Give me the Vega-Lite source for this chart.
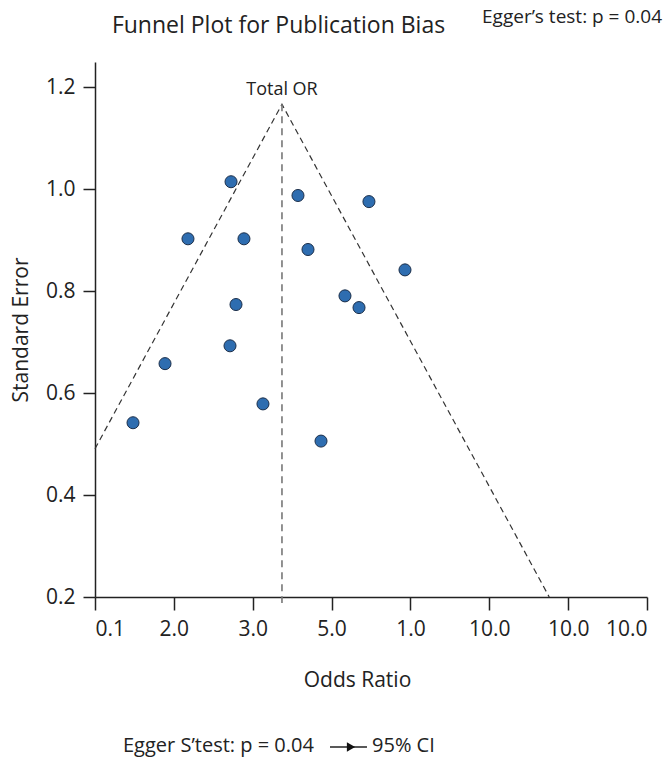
{
  "$schema": "https://vega.github.io/schema/vega-lite/v6.json",
  "width": 552,
  "height": 535,
  "autosize": "none",
  "padding": {"left": 95, "top": 62, "right": 18, "bottom": 163},
  "background": "white",
  "config": {
    "view": {"stroke": null},
    "font": "Open Sans",
    "axis": {"grid": false, "domainColor": "#222", "domainWidth": 1.5, "tickColor": "#222", "tickWidth": 1.5, "labelColor": "#222", "titleColor": "#222", "labelFont": "Open Sans", "titleFont": "Open Sans", "titleFontWeight": "normal"}
  },
  "datasets": {
    "studies": [
      {"or_pos": 1.725, "se": 1.015},
      {"or_pos": 1.179, "se": 0.903},
      {"or_pos": 1.889, "se": 0.903},
      {"or_pos": 2.574, "se": 0.988},
      {"or_pos": 3.474, "se": 0.976},
      {"or_pos": 2.701, "se": 0.882},
      {"or_pos": 3.931, "se": 0.842},
      {"or_pos": 3.170, "se": 0.791},
      {"or_pos": 3.348, "se": 0.768},
      {"or_pos": 1.788, "se": 0.774},
      {"or_pos": 1.712, "se": 0.693},
      {"or_pos": 0.888, "se": 0.658},
      {"or_pos": 2.130, "se": 0.579},
      {"or_pos": 0.482, "se": 0.542},
      {"or_pos": 2.866, "se": 0.506}
    ],
    "funnel": [
      {"or_pos": 0.0, "se": 0.491, "order": 1},
      {"or_pos": 2.371, "se": 1.167, "order": 2},
      {"or_pos": 5.76, "se": 0.2, "order": 3}
    ],
    "center": [
      {"or_pos": 2.371, "se": 1.167},
      {"or_pos": 2.371, "se": 0.188}
    ]
  },
  "layer": [
    {
      "data": {"name": "funnel"},
      "mark": {"type": "line", "color": "#333", "strokeWidth": 1.2, "strokeDash": [6, 4], "clip": false},
      "encoding": {
        "x": {"field": "or_pos", "type": "quantitative", "scale": {"domain": [0, 7], "nice": false, "zero": false},
          "axis": {"values": [0, 1, 2, 3, 4, 5, 6, 7], "labelExpr": "['0.1','2.0','3.0','5.0','1.0','10.0','10.0','10.0'][datum.value]", "labelFontSize": 21, "tickSize": 13, "labelPadding": 8, "title": "Odds Ratio", "titleFontSize": 21, "titlePadding": 30, "titleX": 262}},
        "y": {"field": "se", "type": "quantitative", "scale": {"domain": [0.2, 1.25], "nice": false, "zero": false},
          "axis": {"values": [0.2, 0.4, 0.6, 0.8, 1.0, 1.2], "format": ".1f", "labelFontSize": 21, "tickSize": 12, "labelPadding": 8, "title": "Standard Error", "titleFontSize": 21, "titlePadding": 14}},
        "order": {"field": "order"}
      }
    },
    {
      "data": {"name": "center"},
      "mark": {"type": "line", "color": "#777", "strokeWidth": 1.6, "strokeDash": [7, 5], "clip": false},
      "encoding": {
        "x": {"field": "or_pos", "type": "quantitative"},
        "y": {"field": "se", "type": "quantitative"}
      }
    },
    {
      "data": {"name": "studies"},
      "mark": {"type": "point", "shape": "circle", "filled": true, "size": 145, "fill": "#2e6db0", "stroke": "#1c2f4a", "strokeWidth": 1, "opacity": 1},
      "encoding": {
        "x": {"field": "or_pos", "type": "quantitative"},
        "y": {"field": "se", "type": "quantitative"}
      }
    },
    {
      "data": {"values": [{"label": "Total OR"}]},
      "mark": {"type": "text", "fontSize": 18, "color": "#222", "align": "center", "baseline": "alphabetic", "clip": false},
      "encoding": {"x": {"datum": 2.371}, "y": {"datum": 1.185}, "text": {"field": "label"}}
    },
    {
      "data": {"values": [{"label": "Funnel Plot for Publication Bias"}]},
      "mark": {"type": "text", "fontSize": 23, "color": "#222", "align": "center", "baseline": "alphabetic", "clip": false},
      "encoding": {"x": {"datum": 2.327}, "y": {"datum": 1.307}, "text": {"field": "label"}}
    },
    {
      "data": {"values": [{"label": "Egger’s test: p = 0.04"}]},
      "mark": {"type": "text", "fontSize": 19, "color": "#222", "align": "left", "baseline": "alphabetic", "clip": false},
      "encoding": {"x": {"datum": 4.908}, "y": {"datum": 1.327}, "text": {"field": "label"}}
    },
    {
      "data": {"values": [{"label": "Egger S’test: p = 0.04"}]},
      "mark": {"type": "text", "fontSize": 20, "color": "#222", "align": "left", "baseline": "alphabetic", "clip": false},
      "encoding": {"x": {"datum": 0.355}, "y": {"datum": -0.104}, "text": {"field": "label"}}
    },
    {
      "data": {"values": [{"label": "95% CI"}]},
      "mark": {"type": "text", "fontSize": 20, "color": "#222", "align": "left", "baseline": "alphabetic", "clip": false},
      "encoding": {"x": {"datum": 3.513}, "y": {"datum": -0.104}, "text": {"field": "label"}}
    },
    {
      "data": {"values": [{"k": 1}]},
      "mark": {"type": "rule", "color": "#222", "strokeWidth": 1.5, "clip": false},
      "encoding": {"x": {"datum": 2.98}, "x2": {"datum": 3.449}, "y": {"datum": -0.0944}}
    },
    {
      "data": {"values": [{"k": 1}]},
      "mark": {"type": "point", "shape": "triangle-right", "filled": true, "size": 90, "color": "#111", "opacity": 1, "clip": false},
      "encoding": {"x": {"datum": 3.246}, "y": {"datum": -0.0944}}
    }
  ]
}
